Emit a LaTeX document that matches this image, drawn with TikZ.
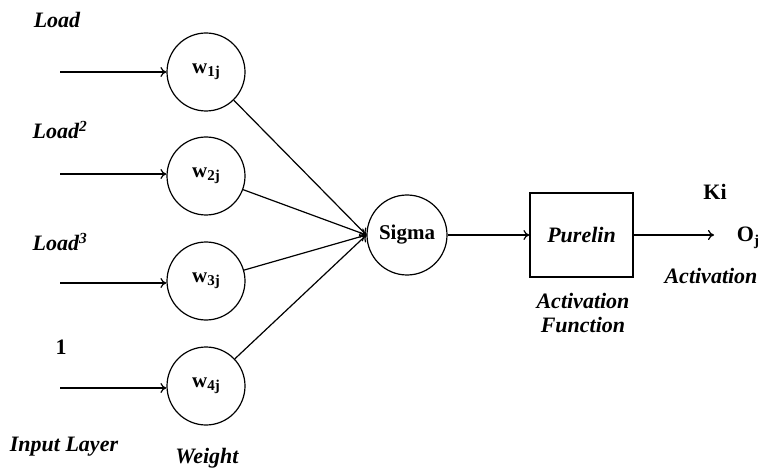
\documentclass[tikz,border=0pt]{standalone}
\usepackage{fontspec}
\setmainfont{Liberation Serif}
\usetikzlibrary{arrows.meta}
\newcommand{\wsubx}[1]{w\raisebox{-0.35ex}{\fontsize{15}{17}\selectfont #1}}
\begin{document}
\begin{tikzpicture}[x=1pt,y=-1pt, line width=1.2pt,
 neuron/.style={draw, circle, minimum size=78pt, inner sep=0pt, font=\fontsize{21}{24}\selectfont\bfseries},
 arr/.style={-{To[length=6pt,width=10pt]}},
 lbl/.style={font=\fontsize{22}{26}\selectfont\bfseries\itshape, inner sep=0pt},
 blbl/.style={font=\fontsize{22}{26}\selectfont\bfseries, inner sep=0pt}]
\useasboundingbox (0,0) rectangle (773,470);
% weight neurons
\node[neuron] (w1) at (206,72) {\wsubx{1j}};
\node[neuron] (w2) at (206,176) {\wsubx{2j}};
\node[neuron] (w3) at (206,281) {\wsubx{3j}};
\node[neuron] (w4) at (206,386) {\wsubx{4j}};
% sigma
\node[neuron, minimum size=80pt] (sig) at (407,235) {Sigma};
% purelin box
\node[draw, minimum width=103pt, minimum height=84pt, inner sep=0pt, lbl] (box) at (581.5,235) {Purelin};
% input coordinates
\coordinate (i1) at (60,72);
\coordinate (i2) at (60,174);
\coordinate (i3) at (60,283);
\coordinate (i4) at (60,388);
\coordinate (out) at (714,235);
% labels
\node[lbl] (l1) at (57,20) {Load};
\node[lbl] (l2) at (60,130) {Load\textsuperscript{2}};
\node[lbl] (l3) at (60,242) {Load\textsuperscript{3}};
\node[blbl] (l4) at (61,347) {1};
\node[lbl] (lin) at (64,447) {Input Layer};
\node[lbl] (lw) at (207,458) {Weight};
\node[lbl, align=center, font=\fontsize{22}{24}\selectfont\bfseries\itshape] (laf) at (583,313) {Activation\\Function};
\node[lbl] (la) at (711,276) {Activation};
\node[blbl] (ki) at (715,192) {Ki};
\node[blbl] (oj) at (748,238) {O\raisebox{-0.35ex}{\fontsize{15}{17}\selectfont j}};
% connectors
\draw[arr] (i1) -- (w1);
\draw[arr] (i2) -- (w2.west |- i2);
\draw[arr] (i3) -- (w3.west |- i3);
\draw[arr] (i4) -- (w4.west |- i4);
\draw[arr] (w1) -- (sig.west);
\draw[arr] (w2) -- (sig.west);
\draw[arr] (w3) -- (sig.west);
\draw[arr] (w4) -- (sig.west);
\draw[arr] (sig) -- (box);
\draw[arr] (box) -- (out);
\end{tikzpicture}
\end{document}
